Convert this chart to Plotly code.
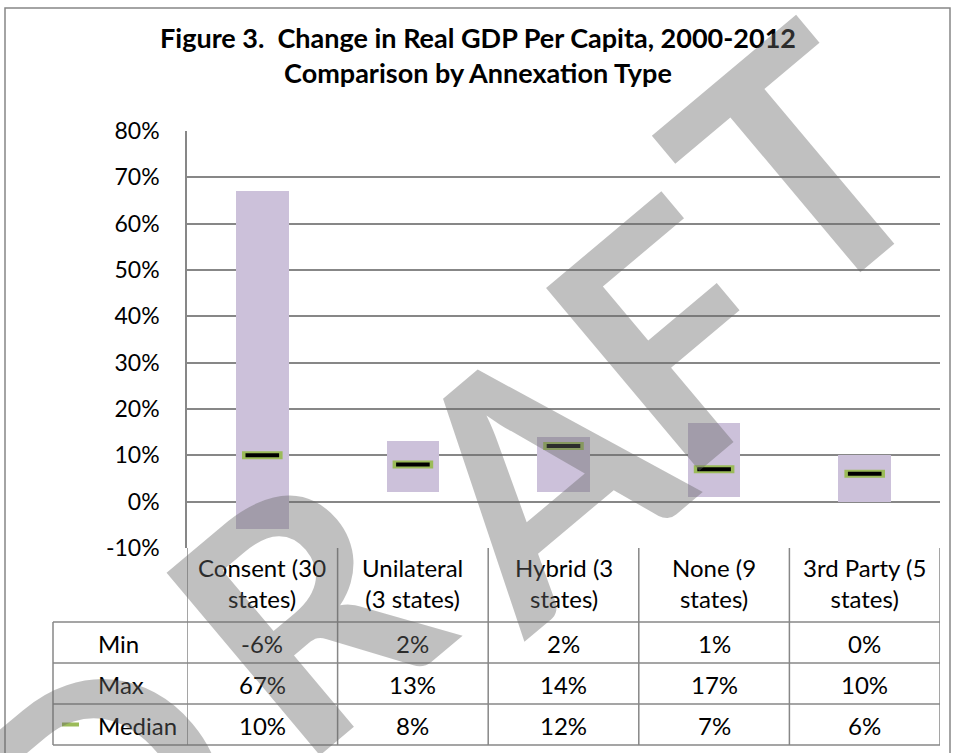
import plotly.graph_objects as go

# ---- data -------------------------------------------------------------
categories = ["Consent", "Unilateral", "Hybrid", "None", "3rd Party"]
header_labels = [
    "Consent (30<br>states)",
    "Unilateral<br>(3 states)",
    "Hybrid (3<br>states)",
    "None (9<br>states)",
    "3rd Party (5<br>states)",
]
min_pct = [-6, 2, 2, 1, 0]
max_pct = [67, 13, 14, 17, 10]
median_pct = [10, 8, 12, 7, 6]
row_names = ["Min", "Max", "Median"]
y_ticks = [-10, 0, 10, 20, 30, 40, 50, 60, 70, 80]
watermark = "DRAFT"

# ---- layout geometry (pixels) ----------------------------------------
W, H = 956, 753
PLOT_L, PLOT_R, PLOT_T, PLOT_B = 187, 940, 131, 548
HEADER_H = 74           # category header row of the data table
ROW_H = 41              # Min / Max / Median rows
TABLE_L = 53            # left edge of the row-name column
FONT = "Lato"
GRID = "#878787"
TXT = "#000000"

PW, PH = PLOT_R - PLOT_L, PLOT_B - PLOT_T


def px_to_py(py):
    """pixel row -> paper y"""
    return (PLOT_B - py) / PH


def px_to_px(px):
    """pixel column -> paper x"""
    return (px - PLOT_L) / PW


fig = go.Figure()

# floating min-max bars
fig.add_trace(go.Bar(
    x=categories,
    y=[hi - lo for lo, hi in zip(min_pct, max_pct)],
    base=min_pct,
    width=0.35,
    marker=dict(color="#CCC1DA", line=dict(width=0)),
    hoverinfo="skip",
    showlegend=False,
))

# median dash: green outline with black core
fig.add_trace(go.Scatter(
    x=categories, y=median_pct, mode="markers",
    marker=dict(symbol="line-ew", size=29, line=dict(width=8, color="#9BBB59")),
    showlegend=False, hoverinfo="skip",
))
fig.add_trace(go.Scatter(
    x=categories, y=median_pct, mode="markers",
    marker=dict(symbol="line-ew", size=24, line=dict(width=4, color="#000000")),
    showlegend=False, hoverinfo="skip",
))

shapes = []
annotations = []

# ---- data table below the axis ----------------------------------------
row_tops = [PLOT_B + HEADER_H + i * ROW_H for i in range(len(row_names) + 1)]
table_bottom = row_tops[-1]

for yt in row_tops:
    shapes.append(dict(type="line", xref="paper", yref="paper",
                       x0=px_to_px(TABLE_L), x1=1, y0=px_to_py(yt), y1=px_to_py(yt),
                       line=dict(color=GRID, width=1.5)))
n = len(categories)
for i in range(n + 1):
    shapes.append(dict(type="line", xref="x", yref="paper",
                       x0=i - 0.5, x1=i - 0.5, y0=px_to_py(PLOT_B), y1=px_to_py(table_bottom),
                       line=dict(color=GRID, width=1.5)))
shapes.append(dict(type="line", xref="paper", yref="paper",
                   x0=px_to_px(TABLE_L), x1=px_to_px(TABLE_L),
                   y0=px_to_py(row_tops[0]), y1=px_to_py(table_bottom),
                   line=dict(color=GRID, width=1.5)))

CELL_FONT = dict(family=FONT, size=24, color=TXT)

for cat, lab in zip(categories, header_labels):
    annotations.append(dict(x=cat, xref="x", y=px_to_py(PLOT_B + HEADER_H / 2 - 2), yref="paper",
                            text=lab, showarrow=False, xanchor="center", yanchor="middle",
                            font=CELL_FONT))

for r, (name, vals) in enumerate(zip(row_names, [min_pct, max_pct, median_pct])):
    yc = px_to_py(row_tops[r] + ROW_H / 2 + 1)
    annotations.append(dict(x=px_to_px(96), xref="paper", y=yc, yref="paper",
                            text=name, showarrow=False, xanchor="left", yanchor="middle",
                            font=CELL_FONT))
    for cat, v in zip(categories, vals):
        annotations.append(dict(x=cat, xref="x", y=yc, yref="paper",
                                text=f"{v}%", showarrow=False, xanchor="center", yanchor="middle",
                                font=CELL_FONT))

# legend key for the median series
key_y = px_to_py(row_tops[2] + ROW_H / 2)
shapes.append(dict(type="line", xref="paper", yref="paper",
                   x0=px_to_px(62), x1=px_to_px(79), y0=key_y, y1=key_y,
                   line=dict(color="#9BBB59", width=4)))

# chart-area frame
shapes.append(dict(type="rect", xref="paper", yref="paper",
                   x0=px_to_px(5), x1=px_to_px(950), y0=px_to_py(H + 10), y1=px_to_py(8),
                   line=dict(color=GRID, width=1.5), fillcolor="rgba(0,0,0,0)"))

# diagonal watermark, one letter at a time so the word can be spaced out
WM_CENTRES = [(100, 790), (300, 605), (530, 470), (668, 330), (795, 160)]  # px
for ch, (cx, cy) in zip(watermark, WM_CENTRES):
    annotations.append(dict(x=px_to_px(cx), xref="paper", y=px_to_py(cy), yref="paper",
                            text=ch, showarrow=False, textangle=-40,
                            xanchor="center", yanchor="middle",
                            font=dict(family=FONT, size=330, weight=700,
                                      color="rgba(105,105,105,0.42)")))

fig.update_layout(
    width=W, height=H,
    margin=dict(l=PLOT_L, r=W - PLOT_R, t=PLOT_T, b=H - PLOT_B, pad=0),
    paper_bgcolor="white", plot_bgcolor="white",
    title=dict(
        text="<b>Figure 3.  Change in Real GDP Per Capita, 2000-2012<br>Comparison by Annexation Type</b>",
        x=0.5, xanchor="center", xref="container",
        y=1 - 47.5 / H, yanchor="middle", yref="container",
        font=dict(family=FONT, size=27, color=TXT),
    ),
    xaxis=dict(type="category", categoryorder="array", categoryarray=categories,
               range=[-0.5, n - 0.5], showticklabels=False, showgrid=False,
               showline=False, zeroline=False, ticks=""),
    yaxis=dict(range=[y_ticks[0], y_ticks[-1]], tickvals=y_ticks,
               ticktext=[f"{t}%" for t in y_ticks],
               showgrid=True, gridcolor=GRID, gridwidth=1.5,
               zeroline=True, zerolinecolor=GRID, zerolinewidth=1.5,
               showline=True, linecolor=GRID, linewidth=1.5,
               ticks="", ticklabelstandoff=21,
               tickfont=dict(family=FONT, size=23, color=TXT)),
    shapes=shapes,
    annotations=annotations,
    showlegend=False,
    bargap=0,
)

fig.write_html("out.html")
